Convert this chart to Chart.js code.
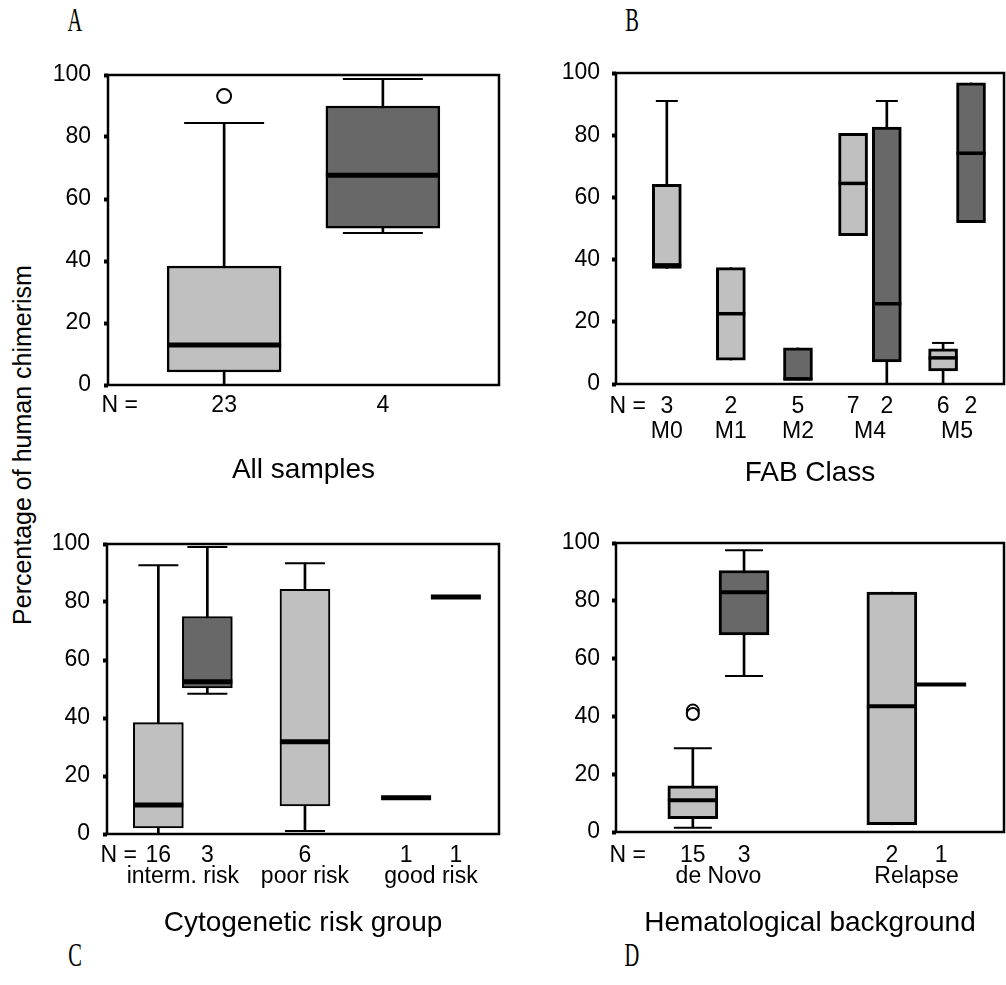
<!DOCTYPE html>
<html>
<head>
<meta charset="utf-8">
<script src="https://cdn.jsdelivr.net/npm/chart.js@4.4.1/dist/chart.umd.min.js"></script>
<style>
  body { margin: 0; width: 1006px; height: 985px; position: relative; overflow: hidden; background: #fff; font-family: "Liberation Sans", Arial, sans-serif; }
  canvas { position: absolute; }
  .letter { position: absolute; font-family: "Liberation Serif", serif; font-size: 33px; color: #000; transform: translate(-50%, -50%) scaleX(0.62); }
  .ylab { position: absolute; left: 22px; top: 445px; font-size: 25px; color: #000; white-space: nowrap; transform: translate(-50%, -50%) rotate(-90deg); }
</style>
</head>
<body>
<div class="letter" style="left:75px; top:20px">A</div>
<div class="letter" style="left:632px; top:20px">B</div>
<div class="letter" style="left:75px; top:955px">C</div>
<div class="letter" style="left:632px; top:955px">D</div>
<div class="ylab">Percentage of human chimerism</div>

<script>
// A - all samples
const allGroup = ['', ''];
const allShade = ['light', 'dark'];
const allPos = [29.7, 70.3];
const allN = [23, 4];
const allQ1 = [4.2, 50.6];
const allMed = [12.9, 67.7];
const allQ3 = [38.4, 90.0];
const allLo = [0, 49.0];
const allHi = [84.5, 98.7];
const allOut = [[93.2], []];

// B - FAB class
const fabGroup = ['M0', 'M1', 'M2', 'M4', 'M4', 'M5', 'M5'];
const fabShade = ['light', 'light', 'dark', 'light', 'dark', 'light', 'dark'];
const fabPos = [13.1, 29.6, 46.9, 61.1, 69.8, 84.3, 91.5];
const fabN = [3, 2, 5, 7, 2, 6, 2];
const fabQ1 = [37.2, 7.7, 1.3, 47.7, 7.1, 4.2, 51.9];
const fabMed = [38.3, 22.6, 1.6, 64.5, 25.8, 8.4, 74.2];
const fabQ3 = [64.2, 37.4, 11.6, 80.6, 82.6, 11.3, 96.8];
const fabLo = [37.2, 7.7, 1.3, 47.7, 0, 0, 51.9];
const fabHi = [91.0, 37.4, 11.6, 80.6, 91.0, 13.2, 96.8];
const fabOut = [[], [], [], [], [], [], []];

// C - cytogenetic risk group
const riskGroup = ['interm. risk', 'interm. risk', 'poor risk', 'good risk', 'good risk'];
const riskShade = ['light', 'dark', 'light', 'light', 'dark'];
const riskPos = [13.1, 25.6, 50.5, 76.3, 89.0];
const riskN = [16, 3, 6, 1, 1];
const riskQ1 = [2.1, 50.4, 9.7, 12.5, 81.7];
const riskMed = [10.0, 52.5, 31.8, 12.5, 81.7];
const riskQ3 = [38.4, 75.0, 84.4, 12.5, 81.7];
const riskLo = [0, 48.4, 1.0, 12.5, 81.7];
const riskHi = [92.7, 99.0, 93.4, 12.5, 81.7];
const riskOut = [[], [], [], [], []];

// D - hematological background
const hemGroup = ['de Novo', 'de Novo', 'Relapse', 'Relapse'];
const hemShade = ['light', 'dark', 'light', 'dark'];
const hemPos = [19.8, 33.0, 71.1, 83.8];
const hemN = [15, 3, 2, 1];
const hemQ1 = [4.6, 68.2, 2.5, 51.0];
const hemMed = [11.0, 83.0, 43.5, 51.0];
const hemQ3 = [16.0, 90.5, 83.0, 51.0];
const hemLo = [1.5, 54.0, 2.5, 51.0];
const hemHi = [29.0, 97.5, 83.0, 51.0];
const hemOut = [[42.0, 40.8], [], [], []];

const FONT = '"Liberation Sans", Arial, sans-serif';
const SHADES = { light: '#c0c0c0', dark: '#686868' };

const panels = [
    {
        title: 'All samples',
        group: allGroup, shade: allShade, pos: allPos, n: allN,
        q1: allQ1, med: allMed, q3: allQ3, lo: allLo, hi: allHi, out: allOut,
        layout: { canvas: [0, 40, 505, 460], area: [108, 75, 499, 385], titleY: 470, tickPad: 8, lineHeight: 26, yPad: 13 },
        style: { boxWidth: 114, boxLine: 2.5, capR: 40, medLine: 5, outR: 7 }
    },
    {
        title: 'FAB Class',
        group: fabGroup, shade: fabShade, pos: fabPos, n: fabN,
        q1: fabQ1, med: fabMed, q3: fabQ3, lo: fabLo, hi: fabHi, out: fabOut,
        layout: { canvas: [505, 40, 501, 460], area: [616, 73, 1004, 384], titleY: 473, tickPad: 10.5, lineHeight: 25, yPad: 12 },
        style: { boxWidth: 29, boxLine: 3, capR: 11, medLine: 3.5, outR: 6 }
    },
    {
        title: 'Cytogenetic risk group',
        group: riskGroup, shade: riskShade, pos: riskPos, n: riskN,
        q1: riskQ1, med: riskMed, q3: riskQ3, lo: riskLo, hi: riskHi, out: riskOut,
        layout: { canvas: [0, 505, 505, 445], area: [107, 544, 499, 834], titleY: 923, tickPad: 11.5, lineHeight: 21, yPad: 13 },
        style: { boxWidth: 50, boxLine: 2, capR: 20, medLine: 5, outR: 6 }
    },
    {
        title: 'Hematological background',
        group: hemGroup, shade: hemShade, pos: hemPos, n: hemN,
        q1: hemQ1, med: hemMed, q3: hemQ3, lo: hemLo, hi: hemHi, out: hemOut,
        layout: { canvas: [505, 505, 501, 445], area: [616, 543, 1004, 832], titleY: 923, tickPad: 13.5, lineHeight: 21, yPad: 12 },
        style: { boxWidth: 50, boxLine: 3, capR: 19, medLine: 4, outR: 6 }
    }
];

const framePlugin = {
    id: 'frame',
    afterDatasetsDraw(chart) {
        const { ctx, chartArea: a } = chart;
        ctx.save();
        ctx.strokeStyle = '#000';
        ctx.lineWidth = 2.5;
        ctx.strokeRect(a.left, a.top, a.right - a.left, a.bottom - a.top);
        ctx.restore();
    }
};

function buildBoxDatasets(p) {
    const idx = p.pos.map((_, i) => i);
    const s = p.style;

    const boxes = ['light', 'dark'].map(shade => ({
        type: 'bar',
        label: shade,
        data: idx.filter(i => p.shade[i] === shade && p.q3[i] > p.q1[i])
            .map(i => ({ x: p.pos[i], y: [p.q1[i], p.q3[i]] })),
        backgroundColor: SHADES[shade],
        borderColor: '#000',
        borderWidth: s.boxLine,
        borderSkipped: false,
        barThickness: s.boxWidth,
        grouped: false,
        order: 3
    }));

    const whiskers = {
        type: 'bar',
        label: 'whisker',
        data: idx.filter(i => p.hi[i] > p.lo[i])
            .map(i => ({ x: p.pos[i], y: [p.lo[i], p.hi[i]] })),
        backgroundColor: '#000',
        borderWidth: 0,
        barThickness: 2,
        grouped: false,
        order: 4
    };

    const capPoints = [];
    idx.forEach(i => {
        if (p.hi[i] > p.q3[i]) capPoints.push({ x: p.pos[i], y: p.hi[i] });
        if (p.lo[i] < p.q1[i]) capPoints.push({ x: p.pos[i], y: p.lo[i] });
    });
    const caps = {
        type: 'scatter',
        label: 'caps',
        data: capPoints,
        pointStyle: 'line',
        pointRadius: s.capR,
        pointBorderColor: '#000',
        pointBorderWidth: 2,
        order: 2
    };

    const medians = {
        type: 'scatter',
        label: 'median',
        data: idx.map(i => ({ x: p.pos[i], y: p.med[i] })),
        pointStyle: 'line',
        pointRadius: s.boxWidth / 2,
        pointBorderColor: '#000',
        pointBorderWidth: s.medLine,
        order: 1
    };

    const outPoints = [];
    p.out.forEach((arr, i) => arr.forEach(v => outPoints.push({ x: p.pos[i], y: v })));
    const outliers = {
        type: 'scatter',
        label: 'outliers',
        data: outPoints,
        pointStyle: 'circle',
        pointRadius: s.outR,
        pointBackgroundColor: '#fff',
        pointBorderColor: '#000',
        pointBorderWidth: 2,
        order: 0
    };

    return [whiskers, ...boxes, caps, medians, outliers];
}

function buildXTicks(p) {
    const list = [{ value: 3, text: 'N =' }];
    p.pos.forEach((x, i) => list.push({ value: x, text: String(p.n[i]) }));
    const names = [...new Set(p.group.filter(g => g))];
    names.forEach(name => {
        const xs = p.pos.filter((_, i) => p.group[i] === name);
        list.push({ value: xs.reduce((a, b) => a + b, 0) / xs.length, text: ['', name] });
    });
    return list.sort((a, b) => a.value - b.value);
}

function buildPanel(p) {
    const L = p.layout;
    const canvas = document.createElement('canvas');
    canvas.width = L.canvas[2];
    canvas.height = L.canvas[3];
    canvas.style.left = L.canvas[0] + 'px';
    canvas.style.top = L.canvas[1] + 'px';
    document.body.appendChild(canvas);

    const yWidth = L.area[0] - L.canvas[0];
    const xHeight = L.titleY + 17 - L.area[3];

    new Chart(canvas.getContext('2d'), {
        type: 'bar',
        data: { datasets: buildBoxDatasets(p) },
        options: {
            responsive: false,
            animation: false,
            events: [],
            layout: {
                autoPadding: false,
                padding: {
                    left: 0,
                    top: L.area[1] - L.canvas[1],
                    right: L.canvas[0] + L.canvas[2] - L.area[2],
                    bottom: L.canvas[1] + L.canvas[3] - L.area[3] - xHeight
                }
            },
            plugins: {
                legend: { display: false },
                tooltip: { enabled: false }
            },
            scales: {
                x: {
                    type: 'linear',
                    min: 0,
                    max: 100,
                    offset: false,
                    grid: { display: false, drawTicks: false },
                    border: { display: false },
                    afterBuildTicks: scale => { scale.ticks = buildXTicks(p); },
                    afterFit: scale => { scale.height = xHeight; },
                    ticks: {
                        autoSkip: false,
                        source: 'data',
                        minRotation: 0,
                        maxRotation: 0,
                        padding: L.tickPad,
                        color: '#000',
                        font: { family: FONT, size: 23, lineHeight: L.lineHeight + 'px' },
                        callback: (value, i, ticks) => ticks[i].text
                    },
                    title: {
                        display: true,
                        text: p.title,
                        color: '#000',
                        padding: 0,
                        font: { family: FONT, size: 28 }
                    }
                },
                y: {
                    type: 'linear',
                    min: 0,
                    max: 100,
                    afterFit: scale => { scale.width = yWidth; },
                    ticks: {
                        stepSize: 20,
                        padding: L.yPad,
                        color: '#000',
                        font: { family: FONT, size: 23 }
                    },
                    grid: {
                        display: true,
                        drawOnChartArea: false,
                        drawTicks: true,
                        tickLength: 4,
                        tickWidth: 4,
                        tickColor: '#000'
                    },
                    border: { display: false }
                }
            }
        },
        plugins: [framePlugin]
    });
}

panels.forEach(buildPanel);
</script>
</body>
</html>
